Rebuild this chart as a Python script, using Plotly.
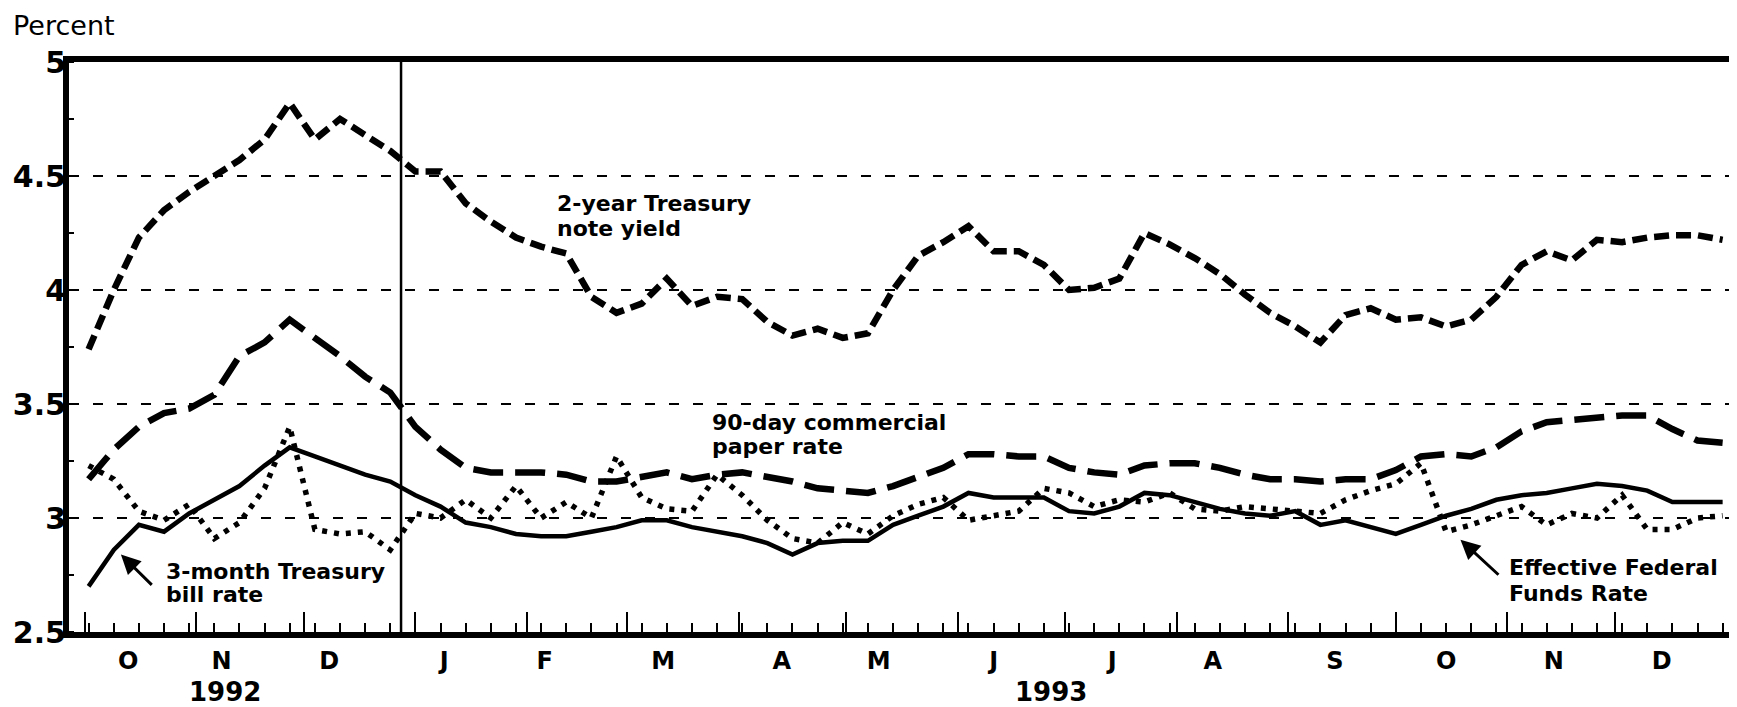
import plotly.graph_objects as go
import pandas as pd

# ---------------- data (weekly, Friday readings) ----------------
start_date = "1992-10-02"
n_weeks = 66

two_year_note = [3.74, 4.00, 4.23, 4.35, 4.43, 4.50, 4.57, 4.66, 4.82, 4.66,
                 4.75, 4.68, 4.61, 4.52, 4.52, 4.38, 4.30, 4.23, 4.19, 4.16,
                 3.97, 3.90, 3.94, 4.05, 3.93, 3.97, 3.96, 3.86, 3.80, 3.83,
                 3.79, 3.81, 4.00, 4.15, 4.21, 4.28, 4.17, 4.17, 4.11, 4.00,
                 4.01, 4.05, 4.25, 4.20, 4.14, 4.07, 3.98, 3.90, 3.84, 3.77,
                 3.89, 3.92, 3.87, 3.88, 3.84, 3.87, 3.97, 4.11, 4.17, 4.13,
                 4.22, 4.21, 4.23, 4.24, 4.24, 4.22]

commercial_paper = [3.17, 3.30, 3.40, 3.46, 3.48, 3.54, 3.71, 3.77, 3.87, 3.79,
                    3.71, 3.62, 3.55, 3.40, 3.30, 3.22, 3.20, 3.20, 3.20, 3.19,
                    3.16, 3.16, 3.18, 3.20, 3.17, 3.19, 3.20, 3.18, 3.16, 3.13,
                    3.12, 3.11, 3.14, 3.18, 3.22, 3.28, 3.28, 3.27, 3.27, 3.22,
                    3.20, 3.19, 3.23, 3.24, 3.24, 3.22, 3.19, 3.17, 3.17, 3.16,
                    3.17, 3.17, 3.21, 3.27, 3.28, 3.27, 3.31, 3.38, 3.42, 3.43,
                    3.44, 3.45, 3.45, 3.39, 3.34, 3.33]

tbill_3m = [2.70, 2.86, 2.97, 2.94, 3.02, 3.08, 3.14, 3.23, 3.31, 3.27,
            3.23, 3.19, 3.16, 3.10, 3.05, 2.98, 2.96, 2.93, 2.92, 2.92,
            2.94, 2.96, 2.99, 2.99, 2.96, 2.94, 2.92, 2.89, 2.84, 2.89,
            2.90, 2.90, 2.97, 3.01, 3.05, 3.11, 3.09, 3.09, 3.09, 3.03,
            3.02, 3.05, 3.11, 3.10, 3.07, 3.04, 3.02, 3.01, 3.03, 2.97,
            2.99, 2.96, 2.93, 2.97, 3.01, 3.04, 3.08, 3.10, 3.11, 3.13,
            3.15, 3.14, 3.12, 3.07, 3.07, 3.07]

fed_funds = [3.23, 3.17, 3.03, 2.99, 3.06, 2.91, 2.98, 3.13, 3.40, 2.95,
             2.93, 2.94, 2.86, 3.02, 3.00, 3.08, 3.00, 3.14, 3.00, 3.07,
             3.00, 3.27, 3.09, 3.04, 3.03, 3.19, 3.10, 2.99, 2.91, 2.89,
             2.98, 2.93, 3.01, 3.06, 3.09, 2.99, 3.01, 3.03, 3.13, 3.11,
             3.05, 3.08, 3.07, 3.11, 3.04, 3.03, 3.05, 3.04, 3.03, 3.02,
             3.08, 3.12, 3.15, 3.24, 2.94, 2.97, 3.01, 3.05, 2.97, 3.02,
             3.00, 3.10, 2.95, 2.95, 3.00, 3.01]

month_letters = ["O", "N", "D", "J", "F", "M", "A", "M", "J", "J", "A", "S", "O", "N", "D"]
month_label_dates = ["1992-10-13", "1992-11-08", "1992-12-08", "1993-01-09", "1993-02-06",
                     "1993-03-11", "1993-04-13", "1993-05-10", "1993-06-11", "1993-07-14",
                     "1993-08-11", "1993-09-14", "1993-10-15", "1993-11-14", "1993-12-14"]
month_starts = ["1992-10-01", "1992-11-01", "1992-12-01", "1993-01-01", "1993-02-01",
                "1993-03-01", "1993-04-01", "1993-05-01", "1993-06-01", "1993-07-01",
                "1993-08-01", "1993-09-01", "1993-10-01", "1993-11-01", "1993-12-01"]
year_labels = ["1992", "1993"]
year_label_dates = ["1992-11-09", "1993-06-27"]
y_ticks = [2.5, 3, 3.5, 4, 4.5, 5]
y_ticktext = ["2.5", "3", "3.5", "4", "4.5", "5"]

x_range = ["1992-09-26 13:00", "1994-01-04"]
year_break = "1992-12-28"

dates = pd.date_range(start_date, periods=n_weeks, freq="7D")

FONT = "DejaVu Sans"
BLACK = "#000000"

fig = go.Figure()
fig.add_trace(go.Scatter(x=dates, y=tbill_3m, mode="lines",
                         line=dict(color=BLACK, width=4.5), name="3-month Treasury bill rate"))
fig.add_trace(go.Scatter(x=dates, y=fed_funds, mode="lines",
                         line=dict(color=BLACK, width=5.5, dash="5px,7px"), name="Effective Federal Funds Rate"))
fig.add_trace(go.Scatter(x=dates, y=commercial_paper, mode="lines",
                         line=dict(color=BLACK, width=6.5, dash="30px,12px"), name="90-day commercial paper rate"))
fig.add_trace(go.Scatter(x=dates, y=two_year_note, mode="lines",
                         line=dict(color=BLACK, width=6.5, dash="15px,7px"), name="2-year Treasury note yield"))
# carrier trace for the month-start tick axis
fig.add_trace(go.Scatter(x=[dates[0]], y=[None], xaxis="x2", mode="lines", showlegend=False, hoverinfo="skip"))

# the page body adds an 8px offset, so the figure is 8px smaller than the window
fig.update_layout(
    width=1729, height=699,
    margin=dict(l=61, r=0, t=54, b=75),
    plot_bgcolor="white", paper_bgcolor="white",
    showlegend=False,
    xaxis=dict(
        type="date", range=x_range, automargin=False,
        tickmode="array", tickvals=month_label_dates, ticktext=month_letters,
        ticks="", showgrid=False, zeroline=False,
        showline=True, linewidth=6, linecolor=BLACK, mirror=True,
        tickfont=dict(family=FONT, size=24, color=BLACK, weight="bold"),
        ticklabelstandoff=2,
        minor=dict(ticks="inside", ticklen=9, tickwidth=2, tickcolor=BLACK,
                   dtick=7 * 86400000, tick0=start_date, showgrid=False),
    ),
    xaxis2=dict(
        type="date", range=x_range, overlaying="x", anchor="y", side="bottom",
        automargin=False,
        tickmode="array", tickvals=month_starts,
        ticks="inside", ticklen=20, tickwidth=2, tickcolor=BLACK,
        showticklabels=False, showgrid=False, showline=False, zeroline=False,
    ),
    yaxis=dict(
        range=[2.5, 5], tickmode="array", tickvals=y_ticks, ticktext=y_ticktext,
        automargin=False,
        ticks="", showgrid=True, gridcolor=BLACK, gridwidth=2, griddash="10px,14px",
        zeroline=False, showline=True, linewidth=6, linecolor=BLACK,
        tickfont=dict(family=FONT, size=30, color=BLACK, weight="bold"),
        ticklabelstandoff=-9,
        minor=dict(ticks="inside", ticklen=5, tickwidth=2, tickcolor=BLACK,
                   dtick=0.25, tick0=2.5, showgrid=False),
    ),
)

# year boundary
fig.add_shape(type="line", xref="x", yref="paper", x0=year_break, x1=year_break, y0=0, y1=1,
              line=dict(color=BLACK, width=2.5))

lab_font = dict(family=FONT, size=22, color=BLACK, weight="bold")

def label(x, y, text):
    fig.add_annotation(x=x, y=y, xref="x", yref="y", text=text, showarrow=False,
                       xanchor="left", yanchor="middle", font=lab_font)

label("1993-02-09", 4.38, "2-year Treasury")
label("1993-02-09", 4.27, "note yield")
label("1993-03-24", 3.42, "90-day commercial")
label("1993-03-24", 3.315, "paper rate")
label("1992-10-23", 2.765, "3-month Treasury")
label("1992-10-23", 2.665, "bill rate")
label("1993-11-01", 2.785, "Effective Federal")
label("1993-11-01", 2.67, "Funds Rate")

# arrows
for head, tail in [(("1992-10-11", 2.84), ("1992-10-20", 2.70)),
                   (("1993-10-19", 2.905), ("1993-10-30", 2.745))]:
    fig.add_annotation(x=head[0], y=head[1], ax=tail[0], ay=tail[1],
                       xref="x", yref="y", axref="x", ayref="y", text="",
                       showarrow=True, arrowhead=2, arrowsize=1.3, arrowwidth=3,
                       arrowcolor=BLACK)

# year labels
for txt, d in zip(year_labels, year_label_dates):
    fig.add_annotation(x=d, y=-0.106, xref="x", yref="paper", text=txt, showarrow=False,
                       xanchor="center", yanchor="middle",
                       font=dict(family=FONT, size=26, color=BLACK, weight="bold"))

# axis title (box kept fully inside the figure)
fig.add_annotation(x=-0.0345, y=1.0945, xref="paper", yref="paper", text="Percent", showarrow=False,
                   xanchor="left", yanchor="top",
                   font=dict(family=FONT, size=27, color=BLACK))

fig.write_html("out.html")
